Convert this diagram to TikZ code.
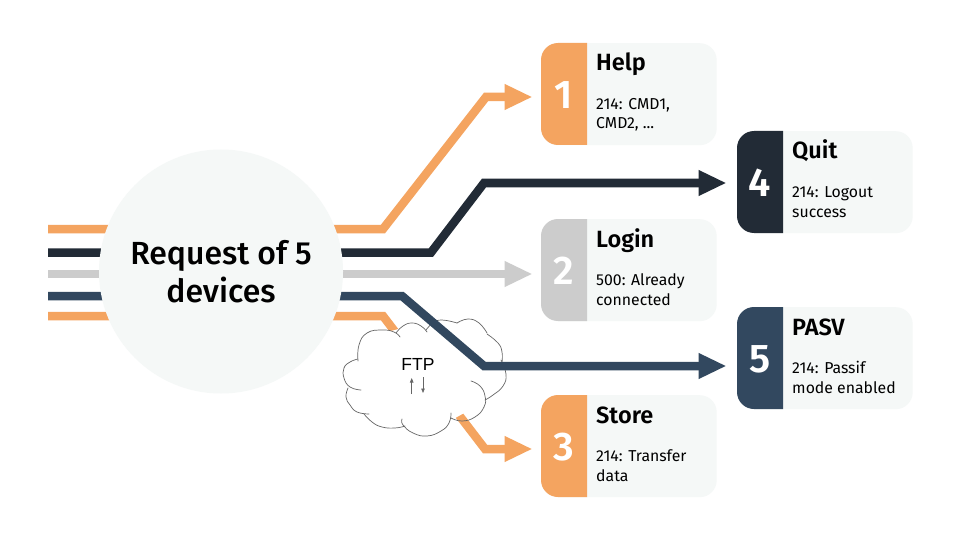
\documentclass[tikz,border=0pt]{standalone}
\usepackage{fontspec}
\setmainfont{Fira Sans}
\newfontfamily\medfont{Fira Sans Medium}
\newfontfamily\semifont{Fira Sans SemiBold}
\newfontfamily\ftpfont{Liberation Sans}
\usetikzlibrary{arrows.meta}
\definecolor{cOrange}{HTML}{F4A460}
\definecolor{cDark}{HTML}{222B36}
\definecolor{cGrey}{HTML}{CCCCCC}
\definecolor{cBlue}{HTML}{32485F}
\definecolor{cPale}{HTML}{F5F8F7}
\definecolor{cCloud}{HTML}{666666}
\tikzset{
  flow/.style={line width=8.5pt,line join=miter,-{Triangle[length=28pt,width=24pt]}},
  hub/.style={circle,fill=cPale,minimum size=244pt,inner sep=0pt,align=center,font=\fontsize{32}{38}\selectfont\medfont},
  cardbox/.style={fill=cPale,rounded corners=17pt,minimum width=175.5pt,minimum height=102pt,inner sep=0pt,anchor=north west},
  numtext/.style={text=white,font=\fontsize{40}{40}\selectfont\semifont,inner sep=0pt},
  titletext/.style={anchor=base west,inner sep=0pt,font=\fontsize{23.5}{26}\selectfont\semifont},
  bodytext/.style={anchor=base west,inner sep=0pt,font=\fontsize{15.8}{19}\selectfont},
  bump/.style={draw=cCloud,line width=0.7pt,line cap=round},
  tiny/.style={draw=cCloud,line width=0.7pt,-{Triangle[length=4.5pt,width=3.5pt]}}
}
% name, x, y, colour, number, title, line 1, line 2
\newcommand{\infocard}[8]{%
  \node[cardbox] (#1) at (#2,#3) {};
  \fill[#4] (#2+46,#3) [rounded corners=17pt] -- (#2,#3) -- (#2,#3+102) [sharp corners] -- (#2+46,#3+102) -- cycle;
  \node[numtext] (#1num) at (#2+23,#3+52) {#5};
  \node[titletext] (#1title) at (#2+55,#3+28) {#6};
  \node[bodytext] (#1a) at (#2+55,#3+66.5) {#7};
  \node[bodytext] (#1b) at (#2+55,#3+86) {#8};
}
\begin{document}
\begin{tikzpicture}[x=1pt,y=-1pt]
\useasboundingbox (0,0) rectangle (960,540);
\fill[white] (0,0) rectangle (960,540);
\coordinate (s1) at (48,229);
\coordinate (s2) at (48,252.5);
\coordinate (s3) at (48,274);
\coordinate (s4) at (48,296);
\coordinate (s5) at (48,316);
\coordinate (b1a) at (383,229);
\coordinate (b1b) at (486,97);
\coordinate (e1) at (532.5,97);
\coordinate (b4a) at (431,252.5);
\coordinate (b4b) at (484,183);
\coordinate (e4) at (726.5,183);
\coordinate (e2) at (532.5,274);
\coordinate (b5a) at (402,296);
\coordinate (b5b) at (484,366);
\coordinate (e5) at (726.5,366);
\coordinate (b3a) at (383,316);
\coordinate (b3b) at (485,449);
\coordinate (e3) at (532.5,449);
\draw[flow,cOrange] (s1) -- (b1a) -- (b1b) -- (e1);
\draw[flow,cDark] (s2) -- (b4a) -- (b4b) -- (e4);
\draw[flow,cGrey] (s3) -- (e2);
\draw[flow,cOrange] (s5) -- (b3a) -- (b3b) -- (e3);
% cloud
\fill[white] plot[smooth cycle,tension=0.7] coordinates {(358,361)(362,337)(395,330)(412,323)(440,320)(475,320)(487,333)(502,355)(506,378)(485,400)(452,420)(427,436)(402,420)(365,415)(347,395)(343,375)};
\node[inner sep=0pt,font=\fontsize{17.5}{20}\selectfont\ftpfont] (ftp) at (418,364) {FTP};
\coordinate (u1) at (411.7,394);
\coordinate (u2) at (411.7,378);
\coordinate (d1) at (423,377);
\coordinate (d2) at (423,393);
\draw[tiny] (u1) -- (u2);
\draw[tiny] (d1) -- (d2);
\draw[bump] plot[smooth,tension=0.8] coordinates {(358,361)(359,345)(367,333)(382,330)(394,332)(400,337)};
\draw[bump] plot[smooth,tension=0.8] coordinates {(396,333)(403,326)(412,323)(421,326)(427,332)};
\draw[bump] plot[smooth,tension=0.8] coordinates {(426,330)(433,323)(442,320)(457,323)};
\draw[bump] plot[smooth,tension=0.8] coordinates {(457,323)(468,319)(479,323)(487,333)};
\draw[bump] plot[smooth,tension=0.8] coordinates {(487,334)(498,343)(502,352)(502,362)};
\draw[bump] plot[smooth,tension=0.8] coordinates {(501,360)(506,374)(503,386)(493,395)(485,400)};
\draw[bump] plot[smooth,tension=0.8] coordinates {(471,381)(480,386)(485,396)(484,407)(475,417)(462,421)(451,418)};
\draw[bump] plot[smooth,tension=0.8] coordinates {(451,413)(449,423)(441,431)(427,436)(413,433)(403,425)(402,419)};
\draw[bump] plot[smooth,tension=0.8] coordinates {(405,426)(395,428)(382,427)(372,422)(364,414)};
\draw[bump] plot[smooth,tension=0.8] coordinates {(369,414)(357,412)(350,405)(346,397)(348,388)};
\draw[bump] plot[smooth,tension=0.8] coordinates {(361,390)(350,387)(344,378)(344,368)(350,362)(358,359)};
% blue connector runs over the cloud
\draw[flow,cBlue] (s4) -- (b5a) -- (b5b) -- (e5);
\node[hub] (hub) at (221,271.5) {Request of 5\\devices};
\infocard{c1}{541}{43}{cOrange}{1}{Help}{214: CMD1,}{CMD2, ...}
\infocard{c2}{541}{219}{cGrey}{2}{Login}{500: Already}{connected}
\infocard{c3}{541}{395}{cOrange}{3}{Store}{214: Transfer}{data}
\infocard{c4}{737}{131}{cDark}{4}{Quit}{214: Logout}{success}
\infocard{c5}{737}{307}{cBlue}{5}{PASV}{214: Passif}{mode enabled}
\end{tikzpicture}
\end{document}
